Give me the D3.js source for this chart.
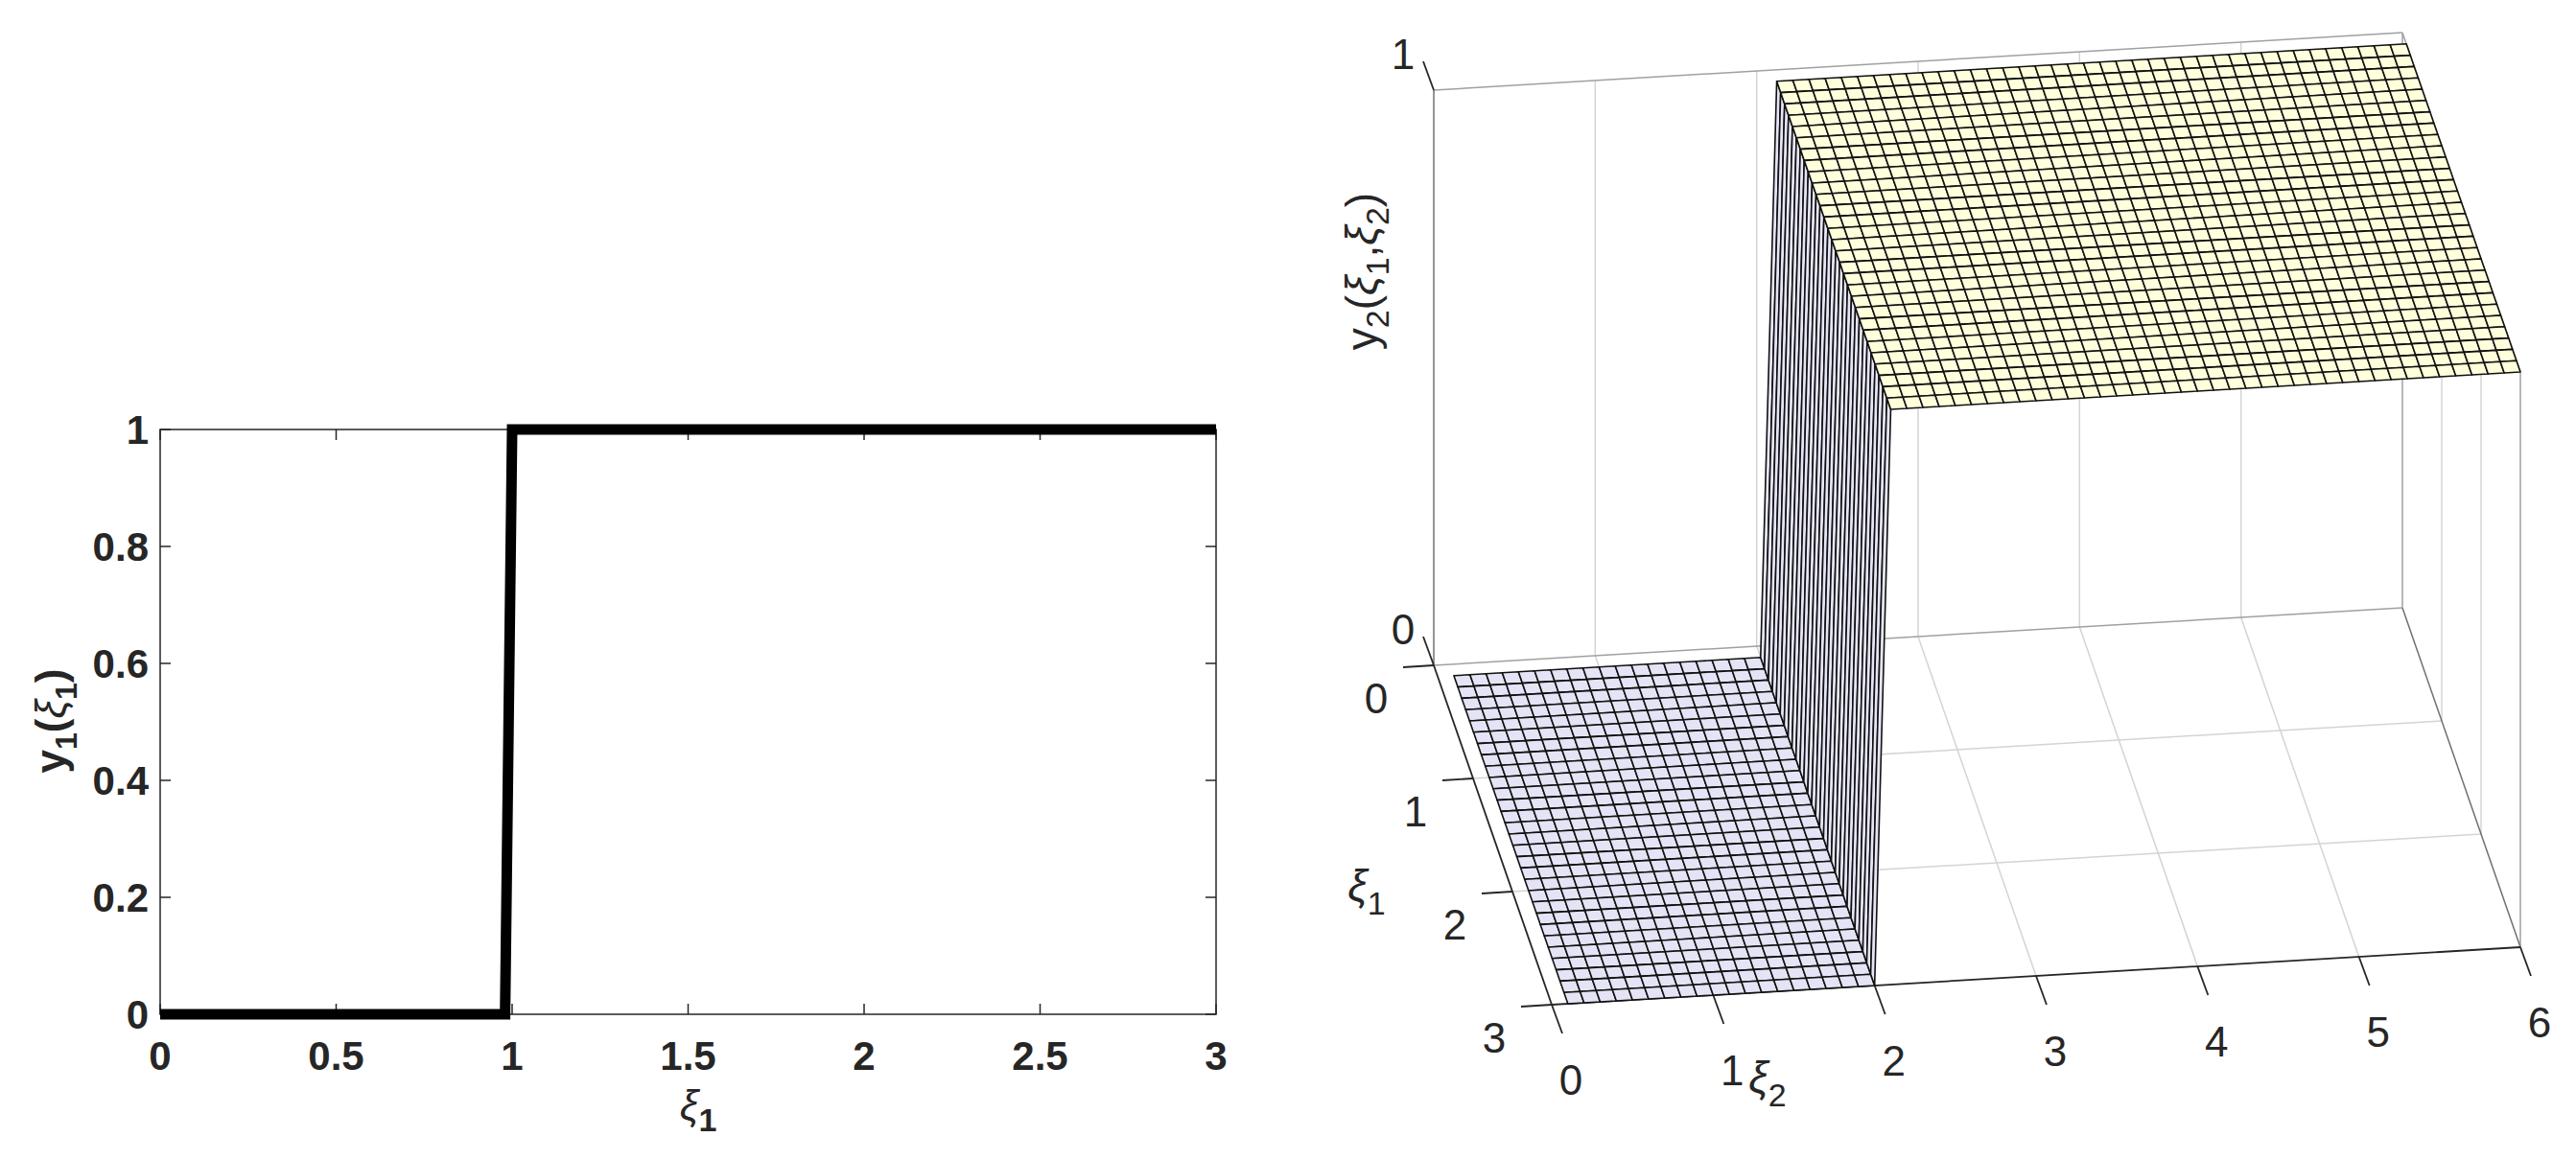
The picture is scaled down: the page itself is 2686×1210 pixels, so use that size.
<!DOCTYPE html>
<html><head><meta charset="utf-8">
<script src="https://cdn.jsdelivr.net/npm/d3@7"></script>
<style>body{margin:0;background:#fff}</style>
</head><body>
<svg id="c" width="2686" height="1210"></svg>
<script>
// ---- data ----
const xi1Line = [0, 0.98, 1.0, 3];
const y1Line  = [0, 0, 1, 1];
const xTicks1 = [0, 0.5, 1, 1.5, 2, 2.5, 3];
const yTicks1 = [0, 0.2, 0.4, 0.6, 0.8, 1];
const xi1Grid = [0.1,0.2,0.3,0.4,0.5,0.6,0.7,0.8,0.9,1.0,1.1,1.2,1.3,1.4,1.5,1.6,1.7,1.8,1.9,2.0,2.1,2.2,2.3,2.4,2.5,2.6,2.7,2.8,2.9,3.0];
const xi2Grid = [0.1,0.2,0.3,0.4,0.5,0.6,0.7,0.8,0.9,1.0,1.1,1.2,1.3,1.4,1.5,1.6,1.7,1.8,1.9,2.0,2.1,2.2,2.3,2.4,2.5,2.6,2.7,2.8,2.9,3.0,3.1,3.2,3.3,3.4,3.5,3.6,3.7,3.8,3.9,4.0,4.1,4.2,4.3,4.4,4.5,4.6,4.7,4.8,4.9,5.0,5.1,5.2,5.3,5.4,5.5,5.6,5.7,5.8,5.9,6.0];
const y2Row   = [0,0,0,0,0,0,0,0,0,0,0,0,0,0,0,0,0,0,0,0,1,1,1,1,1,1,1,1,1,1,1,1,1,1,1,1,1,1,1,1,1,1,1,1,1,1,1,1,1,1,1,1,1,1,1,1,1,1,1,1];
const xi1Ticks = [0,1,2,3];
const xi2Ticks = [0,1,2,3,4,5,6];
const zTicks = [0,1];

const svg = d3.select('#c');

// ---- left plot ----
const L = {l:167, r:1268, t:448, b:1058};
const x = d3.scaleLinear([0,3],[L.l,L.r]);
const y = d3.scaleLinear([0,1],[L.b,L.t]);
const g1 = svg.append('g');
const fontL = "'Liberation Sans Narrow','Arial Narrow','Liberation Sans',Arial,sans-serif";
g1.append('rect').attr('x',L.l).attr('y',L.t).attr('width',L.r-L.l).attr('height',L.b-L.t)
  .attr('fill','none').attr('stroke','#262626').attr('stroke-width',1.5);
xTicks1.forEach(v=>{
  g1.append('line').attr('x1',x(v)).attr('x2',x(v)).attr('y1',L.b).attr('y2',L.b-11).attr('stroke','#262626').attr('stroke-width',1.5);
  g1.append('line').attr('x1',x(v)).attr('x2',x(v)).attr('y1',L.t).attr('y2',L.t+11).attr('stroke','#262626').attr('stroke-width',1.5);
  g1.append('text').attr('x',x(v)).attr('y',L.b+58).attr('text-anchor','middle')
    .attr('font-family',fontL).attr('font-weight','bold').attr('font-size',42).attr('fill','#262626').text(String(v));
});
yTicks1.forEach(v=>{
  g1.append('line').attr('x1',L.l).attr('x2',L.l+11).attr('y1',y(v)).attr('y2',y(v)).attr('stroke','#262626').attr('stroke-width',1.5);
  g1.append('line').attr('x1',L.r).attr('x2',L.r-11).attr('y1',y(v)).attr('y2',y(v)).attr('stroke','#262626').attr('stroke-width',1.5);
  g1.append('text').attr('x',L.l-12).attr('y',y(v)+15).attr('text-anchor','end')
    .attr('font-family',fontL).attr('font-weight','bold').attr('font-size',42).attr('fill','#262626').text(String(v));
});
g1.append('path').datum(d3.zip(xi1Line,y1Line))
  .attr('d',d3.line().x(d=>x(d[0])).y(d=>y(d[1])))
  .attr('fill','none').attr('stroke','#000').attr('stroke-width',11).attr('stroke-linejoin','miter');
// labels
const xl = g1.append('text').attr('x',728).attr('y',1168).attr('text-anchor','middle')
  .attr('font-family',fontL).attr('font-size',44).attr('fill','#262626');
xl.append('tspan').attr('font-style','italic').text('ξ');
xl.append('tspan').attr('dy',12).attr('font-size',34).attr('font-weight','bold').text('1');
const yl = g1.append('text').attr('transform','translate(68,752) rotate(-90)').attr('text-anchor','middle')
  .attr('font-family',fontL).attr('font-weight','bold').attr('font-size',44).attr('fill','#262626');
yl.append('tspan').text('y');
yl.append('tspan').attr('dy',12).attr('font-size',32).text('1');
yl.append('tspan').attr('dy',-12).text('(');
yl.append('tspan').attr('font-style','italic').attr('font-weight','normal').text('ξ');
yl.append('tspan').attr('dy',12).attr('font-size',32).text('1');
yl.append('tspan').attr('dy',-12).text(')');

// ---- right 3D plot ----
const O = [1495,694];
const s1 = d3.scaleLinear([0,3],[0,1]);   // fraction along xi1 span
const s2 = d3.scaleLinear([0,6],[0,1]);
const sz = d3.scaleLinear([0,1],[0,-600]);
const A = [123,354], B = [1010,-60];
function P(a,b,z){ const u=s1(a), v=s2(b); return [O[0]+u*A[0]+v*B[0], O[1]+u*A[1]+v*B[1]+sz(z)]; }
const g2 = svg.append('g');
const ln = (p,q,c,w)=>g2.append('line').attr('x1',p[0]).attr('y1',p[1]).attr('x2',q[0]).attr('y2',q[1]).attr('stroke',c).attr('stroke-width',w);
const grid='#d4d4d4', edge='#a0a0a0';
// gridlines
xi2Ticks.slice(1,-1).forEach(v=>{ ln(P(0,v,0),P(0,v,1),grid,1.5); ln(P(0,v,0),P(3,v,0),grid,1.5); });
xi1Ticks.slice(1,-1).forEach(v=>{ ln(P(v,6,0),P(v,6,1),grid,1.5); ln(P(v,0,0),P(v,6,0),grid,1.5); });
// back box edges
ln(P(0,0,1),P(0,6,1),edge,1.5); ln(P(0,6,1),P(3,6,1),edge,1.5);
ln(P(0,0,0),P(0,0,1),'#707070',1.5); ln(P(0,6,0),P(0,6,1),edge,1.5); ln(P(3,6,0),P(3,6,1),edge,1.5);
ln(P(0,0,0),P(0,6,0),edge,1.5); ln(P(0,6,0),P(3,6,0),'#707070',1.5);
// front axes
ln(P(0,0,0),P(3,0,0),'#262626',1.8); ln(P(3,0,0),P(3,6,0),'#262626',1.8);
// ticks
const tl = 32;
xi1Ticks.forEach(v=>{ const p=P(v,0,0); ln(p,[p[0]-tl,p[1]+2],'#262626',1.8);
  g2.append('text').attr('x',p[0]-60).attr('y',p[1]+50).attr('text-anchor','middle').attr('font-family','Liberation Sans,Arial,sans-serif').attr('font-size',44).attr('fill','#262626').text(v); });
xi2Ticks.forEach(v=>{ const p=P(3,v,0); ln(p,[p[0]+11,p[1]+30],'#262626',1.8);
  g2.append('text').attr('x',p[0]+20).attr('y',p[1]+94).attr('text-anchor','middle').attr('font-family','Liberation Sans,Arial,sans-serif').attr('font-size',44).attr('fill','#262626').text(v); });
zTicks.forEach(v=>{ const p=P(0,0,v); ln(p,[p[0]-11,p[1]-30],'#262626',1.8);
  g2.append('text').attr('x',p[0]-32).attr('y',p[1]-22).attr('text-anchor','middle').attr('font-family','Liberation Sans,Arial,sans-serif').attr('font-size',44).attr('fill','#262626').text(v); });
// surface
const faces=[];
for(let j=0;j<xi2Grid.length-1;j++) for(let i=0;i<xi1Grid.length-1;i++){
  const z00=y2Row[j], z01=y2Row[j+1];
  faces.push({i,j,pts:[P(xi1Grid[i],xi2Grid[j],z00),P(xi1Grid[i],xi2Grid[j+1],z01),P(xi1Grid[i+1],xi2Grid[j+1],z01),P(xi1Grid[i+1],xi2Grid[j],z00)],
    kind: z00===z01 ? (z00===0?'low':'high') : 'wall'});
}
const order={low:0,wall:1,high:2};
faces.sort((a,b)=>order[a.kind]-order[b.kind]||a.i-b.i);
const fill={low:'#e4e4f6',wall:'#e6e6f8',high:'#ffffdc'};
g2.selectAll('path.f').data(faces).join('path').attr('class','f')
  .attr('d',d=>'M'+d.pts.map(p=>p.join(',')).join('L')+'Z')
  .attr('fill',d=>fill[d.kind]).attr('stroke','#111').attr('stroke-width',1.6).attr('stroke-linejoin','round');
// labels
const font3='Liberation Sans,Arial,sans-serif';
const zl = g2.append('text').attr('transform','translate(1436,283) rotate(-90)').attr('text-anchor','middle')
  .attr('font-family',font3).attr('font-size',46).attr('fill','#262626');
zl.append('tspan').text('y'); zl.append('tspan').attr('dy',12).attr('font-size',34).text('2');
zl.append('tspan').attr('dy',-12).text('('); zl.append('tspan').attr('font-style','italic').text('ξ');
zl.append('tspan').attr('dy',12).attr('font-size',34).text('1'); zl.append('tspan').attr('dy',-12).text(',');
zl.append('tspan').attr('font-style','italic').text('ξ'); zl.append('tspan').attr('dy',12).attr('font-size',34).text('2');
zl.append('tspan').attr('dy',-12).text(')');
const l1 = g2.append('text').attr('x',1425).attr('y',940).attr('text-anchor','middle').attr('font-family',font3).attr('font-size',46).attr('fill','#262626');
l1.append('tspan').attr('font-style','italic').text('ξ'); l1.append('tspan').attr('dy',14).attr('font-size',34).text('1');
const l2 = g2.append('text').attr('x',1843).attr('y',1140).attr('text-anchor','middle').attr('font-family',font3).attr('font-size',46).attr('fill','#262626');
l2.append('tspan').attr('font-style','italic').text('ξ'); l2.append('tspan').attr('dy',14).attr('font-size',34).text('2');
</script>
</body></html>
